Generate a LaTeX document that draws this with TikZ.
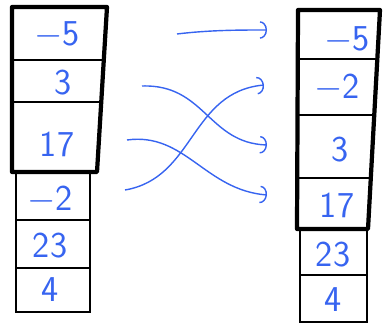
\documentclass[tikz,border=0pt]{standalone}
\usepackage{tikz}
\usetikzlibrary{arrows.meta,calc,positioning}
\usepackage{xcolor}
\definecolor{penblue}{RGB}{55,100,240}

\begin{document}
\begin{tikzpicture}[x=0.02cm, y=-0.02cm,
  num/.style={text=penblue, font=\huge\sffamily},
  cell/.style={line width=0.6pt, black},
  frame/.style={line width=2.4pt, black, line join=round},
  move/.style={penblue, line width=0.8pt, -{Arc Barb[length=4pt, width=10pt]}}]
\useasboundingbox (0,0) rectangle (388,327);
% left column
\draw[cell] (16,172) -- (16,312) -- (90,312) -- (90,172);
\draw[cell] (16,220) -- (90,220);
\draw[cell] (16,268) -- (90,268);
\draw[cell] (12,60) -- (104,60);
\draw[cell] (12,102) -- (102,102);
\draw[frame] (12,7) -- (107,7) -- (97,172) -- (12,172) -- cycle;
\node[num] (l1) at (57,35) {$-$5};
\node[num] (l2) at (63,83) {3};
\node[num] (l3) at (57,144) {17};
\node[num] (l4) at (50,200) {$-$2};
\node[num] (l5) at (50,246) {23};
\node[num] (l6) at (50,290) {4};
% right column
\draw[cell] (300,229) -- (300,322) -- (367,322) -- (367,229);
\draw[cell] (300,275) -- (367,275);
\draw[cell] (298,59) -- (377,59);
\draw[cell] (298,115) -- (374,115);
\draw[cell] (298,178) -- (371,178);
\draw[frame] (298,10) -- (380,10) -- (368,229) -- (297,229) -- cycle;
\node[num] (r1) at (347,40) {$-$5};
\node[num] (r2) at (337,88) {$-$2};
\node[num] (r3) at (340,150) {3};
\node[num] (r4) at (337,205) {17};
\node[num] (r5) at (333,255) {23};
\node[num] (r6) at (333,300) {4};
% arrows
\coordinate (s1) at (177,34);  \coordinate (e1) at (267,30);
\coordinate (s2) at (142,86);  \coordinate (e2) at (267,145);
\coordinate (s3) at (127,140); \coordinate (e3) at (267,195);
\coordinate (s4) at (125,190); \coordinate (e4) at (264,85);
\draw[move] (s1) .. controls (210,30) and (240,30) .. (e1);
\draw[move] (s2) .. controls (205,84) and (208,143) .. (e2);
\draw[move] (s3) .. controls (185,132) and (205,190) .. (e3);
\draw[move] (s4) .. controls (195,178) and (190,92) .. (e4);
\end{tikzpicture}
\end{document}
